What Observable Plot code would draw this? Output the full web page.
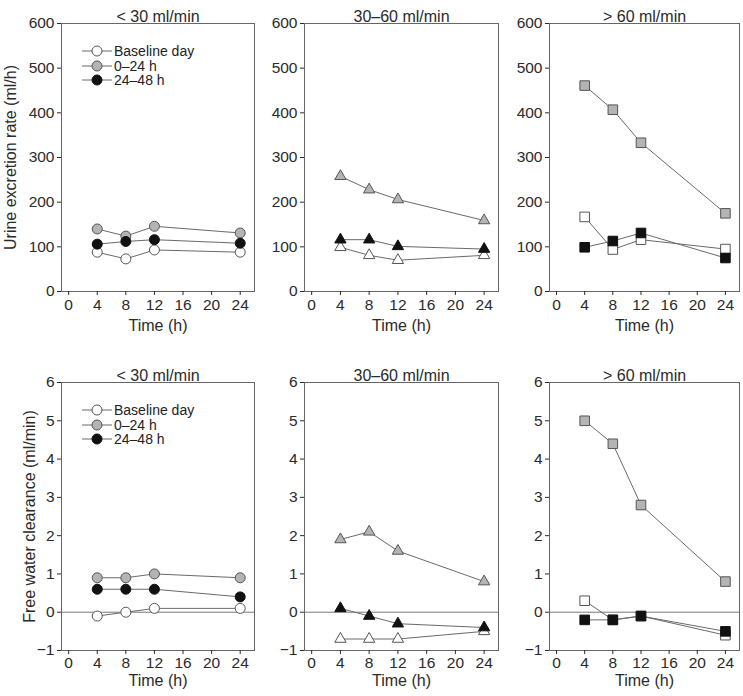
<!DOCTYPE html>
<html>
<head>
<meta charset="utf-8">
<script src="https://cdn.jsdelivr.net/npm/d3@7"></script>
<script src="https://cdn.jsdelivr.net/npm/@observablehq/plot@0.6"></script>
<style>
  html, body { margin: 0; padding: 0; background: #fff; }
  #root { position: relative; width: 743px; height: 696px; overflow: hidden; background: #fff;
          font-family: "Liberation Sans", Arial, Helvetica, sans-serif; color: #222; }
  .panel { position: absolute; }
  .panel svg { max-width: none !important; display: block; }
  .legend { position: absolute; font-size: 14px; line-height: 14.5px; color: #222; white-space: nowrap; }
  .legend div { display: flex; align-items: center; height: 14.5px; }
  .legend svg { margin-right: 1px; }
</style>
</head>
<body>
<div id="root"></div>
<script>
// ---- data ----
const times = [4, 8, 12, 24];
const groups = ["< 30 ml/min", "30–60 ml/min", "> 60 ml/min"];
const seriesNames = ["Baseline day", "0–24 h", "24–48 h"];
const groupSymbols = ["circle", "triangle", "square"];

// Urine excretion rate (ml/h), one array per group
const urineBaseline = [[88, 73, 93, 88], [99, 81, 70, 81], [167, 94, 116, 95]];
const urine0to24   = [[140, 124, 146, 131], [258, 228, 206, 159], [461, 407, 333, 175]];
const urine24to48  = [[106, 112, 116, 108], [116, 116, 101, 95], [99, 113, 131, 75]];

// Free water clearance (ml/min)
const fwcBaseline = [[-0.1, 0, 0.1, 0.1], [-0.7, -0.7, -0.7, -0.5], [0.3, -0.2, -0.1, -0.6]];
const fwc0to24   = [[0.9, 0.9, 1.0, 0.9], [1.9, 2.1, 1.6, 0.8], [5.0, 4.4, 2.8, 0.8]];
const fwc24to48  = [[0.6, 0.6, 0.6, 0.4], [0.1, -0.1, -0.3, -0.4], [-0.2, -0.2, -0.1, -0.5]];

const xTicks = [0, 4, 8, 12, 16, 20, 24];
const urineTicks = [0, 100, 200, 300, 400, 500, 600];
const fwcTicks = [-1, 0, 1, 2, 3, 4, 5, 6];

// ---- styles ----
const seriesFill = ["#ffffff", "#b4b4b4", "#111111"];
const seriesStroke = ["#555555", "#555555", "#111111"];
const symbolR = {circle: 5, triangle: 4.2, square: 5.4};
const FONT = "Liberation Sans, Arial, Helvetica, sans-serif";

const rows = [
  {
    svgTop: 0, mt: 23, plotH: 268, mb: 45,
    yDomain: [0, 600], yTicks: urineTicks,
    series: [urineBaseline, urine0to24, urine24to48],
    yLabel: "Urine excretion rate (ml/h)", labelDx: -51, timeDy: 39, tickPad: 3, zero: false,
    legendTop: 44
  },
  {
    svgTop: 340, mt: 42, plotH: 268, mb: 46,
    yDomain: [-1, 6], yTicks: fwcTicks,
    series: [fwcBaseline, fwc0to24, fwc24to48],
    yLabel: "Free water clearance (ml/min)", labelDx: -32, timeDy: 35, tickPad: 2, zero: true,
    legendTop: 403
  }
];

const frameLefts = [61, 304, 549];
const frameWidths = [193, 194, 190];
const fmt = d => d < 0 ? "\u2212" + Math.abs(d) : String(d);

const root = document.getElementById("root");

rows.forEach((row, r) => {
  groups.forEach((g, gi) => {
    const ml = gi === 0 ? 61 : 40;
    const mr = 3;
    const width = ml + frameWidths[gi] + mr;
    const height = row.mt + row.plotH + row.mb;
    const sym = groupSymbols[gi];
    const marks = [];
    if (row.zero) marks.push(Plot.ruleY([0], {stroke: "#777", strokeWidth: 1}));
    row.series.forEach((arr) => {
      const data = times.map((t, k) => ({t, v: arr[gi][k]}));
      marks.push(Plot.line(data, {x: "t", y: "v", stroke: "#6a6a6a", strokeWidth: 1}));
    });
    row.series.forEach((arr, si) => {
      const data = times.map((t, k) => ({t, v: arr[gi][k]}));
      marks.push(Plot.dot(data, {
        x: "t", y: "v", symbol: sym, r: symbolR[sym],
        fill: seriesFill[si], stroke: seriesStroke[si], strokeWidth: 1
      }));
    });
    marks.push(Plot.frame({stroke: "#666"}));
    marks.push(Plot.axisX({ticks: xTicks, tickSize: 4, tickPadding: row.tickPad, label: null, fontSize: 15.5}));
    marks.push(Plot.axisY({ticks: row.yTicks, tickSize: 4, tickPadding: 3, label: null, tickFormat: fmt, fontSize: 15.5}));
    marks.push(Plot.text([g], {text: d => d, frameAnchor: "top", dy: -13, fontSize: 16}));
    marks.push(Plot.text(["Time (h)"], {text: d => d, frameAnchor: "bottom", dy: row.timeDy, fontSize: 16}));
    if (gi === 0) {
      marks.push(Plot.text([row.yLabel], {
        text: d => d, frameAnchor: "left", textAnchor: "middle", lineAnchor: "middle",
        rotate: -90, dx: row.labelDx, fontSize: 16
      }));
    }
    const chart = Plot.plot({
      width,
      height,
      marginTop: row.mt, marginBottom: row.mb, marginLeft: ml, marginRight: mr,
      x: {domain: [-1, 26]},
      y: {domain: row.yDomain},
      style: {fontFamily: FONT, fontSize: "16px", color: "#2a2a2a", background: "transparent", overflow: "visible", maxWidth: "none"},
      marks
    });
    const wrap = document.createElement("div");
    wrap.className = "panel";
    wrap.style.left = (frameLefts[gi] - ml) + "px";
    wrap.style.top = row.svgTop + "px";
    wrap.style.width = width + "px";
    wrap.style.height = height + "px";
    wrap.appendChild(chart);
    root.appendChild(wrap);
  });

  // legend (inside first panel)
  const leg = document.createElement("div");
  leg.className = "legend";
  leg.style.left = "82px";
  leg.style.top = row.legendTop + "px";
  seriesNames.forEach((name, si) => {
    const item = document.createElement("div");
    item.innerHTML =
      `<svg width="31" height="14"><line x1="0" y1="7" x2="30" y2="7" stroke="#6a6a6a" stroke-width="1"></line>` +
      `<circle cx="15" cy="7" r="5" fill="${seriesFill[si]}" stroke="${seriesStroke[si]}" stroke-width="1"></circle></svg>` +
      `<span>${name}</span>`;
    leg.appendChild(item);
  });
  root.appendChild(leg);
});
</script>
</body>
</html>
